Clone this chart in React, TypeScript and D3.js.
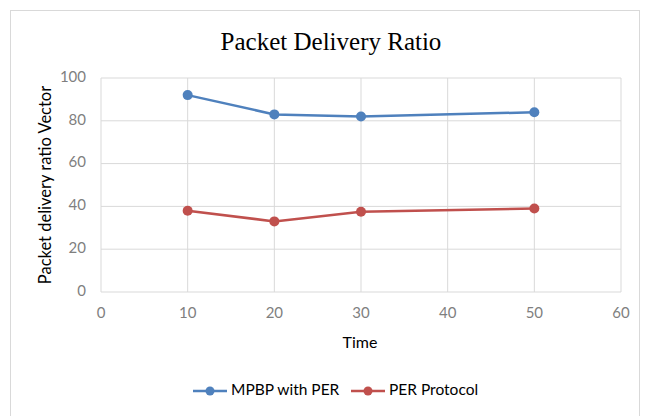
import React from 'react';
import * as d3 from 'd3';

const times = [10, 20, 30, 50];
const mpbpValues = [92, 83, 82, 84];
const perValues = [38, 33, 37.5, 39];
const seriesNames = ['MPBP with PER', 'PER Protocol'];
const seriesColors = ['#4F81BD', '#C0504D'];
const xTicks = [0, 10, 20, 30, 40, 50, 60];
const yTicks = [0, 20, 40, 60, 80, 100];

function App() {
  const width = 645;
  const height = 416;
  const plot = { left: 101, right: 621, top: 78, bottom: 292 };

  const xScale = d3.scaleLinear().domain([0, 60]).range([plot.left, plot.right]);
  const yScale = d3.scaleLinear().domain([0, 100]).range([plot.bottom, plot.top]);

  const line = d3
    .line<number>()
    .x((_, i) => xScale(times[i]))
    .y((d) => yScale(d));

  const series = [mpbpValues, perValues];
  const sansFont = 'Lato, "Open Sans", sans-serif';

  return (
    <svg
      width={width}
      height={height}
      style={{ position: 'absolute', left: 0, top: 0, background: '#fff' }}
    >
      <rect x={10.5} y={10.5} width={629} height={420} fill="#fff" stroke="#d9d9d9" />
      <text
        x={331}
        y={50}
        textAnchor="middle"
        fontFamily='"Liberation Serif", serif'
        fontSize={25}
        fill="#000"
      >
        Packet Delivery Ratio
      </text>

      <g className="grid">
        {yTicks.map((t) => (
          <line
            key={`y${t}`}
            x1={plot.left}
            x2={plot.right}
            y1={yScale(t)}
            y2={yScale(t)}
            stroke="#d9d9d9"
          />
        ))}
        {xTicks.map((t) => (
          <line
            key={`x${t}`}
            x1={xScale(t)}
            x2={xScale(t)}
            y1={plot.top}
            y2={plot.bottom}
            stroke="#d9d9d9"
          />
        ))}
      </g>

      <g className="axes" fontFamily={sansFont} fontSize={15} fill="#7f7f7f">
        {yTicks.map((t) => (
          <text key={t} x={plot.left - 15} y={yScale(t)} textAnchor="end" dominantBaseline="middle">
            {t}
          </text>
        ))}
        {xTicks.map((t) => (
          <text key={t} x={xScale(t)} y={plot.bottom + 22} textAnchor="middle" dominantBaseline="middle">
            {t}
          </text>
        ))}
      </g>

      <text
        x={360}
        y={348}
        textAnchor="middle"
        fontFamily={sansFont}
        fontSize={16}
        fill="#000"
      >
        Time
      </text>
      <text
        transform={`translate(51 ${(plot.top + plot.bottom) / 2}) rotate(-90)`}
        textAnchor="middle"
        fontFamily={sansFont}
        fontSize={16.5}
        fill="#000"
      >
        Packet delivery ratio Vector
      </text>

      {series.map((values, s) => (
        <g key={s}>
          <path d={line(values) ?? ''} fill="none" stroke={seriesColors[s]} strokeWidth={2.5} />
          {values.map((v, i) => (
            <circle key={i} cx={xScale(times[i])} cy={yScale(v)} r={5} fill={seriesColors[s]} />
          ))}
        </g>
      ))}

      <g className="legend" fontFamily={sansFont} fontSize={15.5} fill="#000">
        {seriesNames.map((name, s) => {
          const x0 = s === 0 ? 193 : 351;
          return (
            <g key={name} transform={`translate(${x0} 391)`}>
              <line x1={0} x2={34} y1={0} y2={0} stroke={seriesColors[s]} strokeWidth={2.5} />
              <circle cx={17} cy={0} r={4.5} fill={seriesColors[s]} />
              <text x={38} y={0} dominantBaseline="middle">
                {name}
              </text>
            </g>
          );
        })}
      </g>
    </svg>
  );
}

export default App;
